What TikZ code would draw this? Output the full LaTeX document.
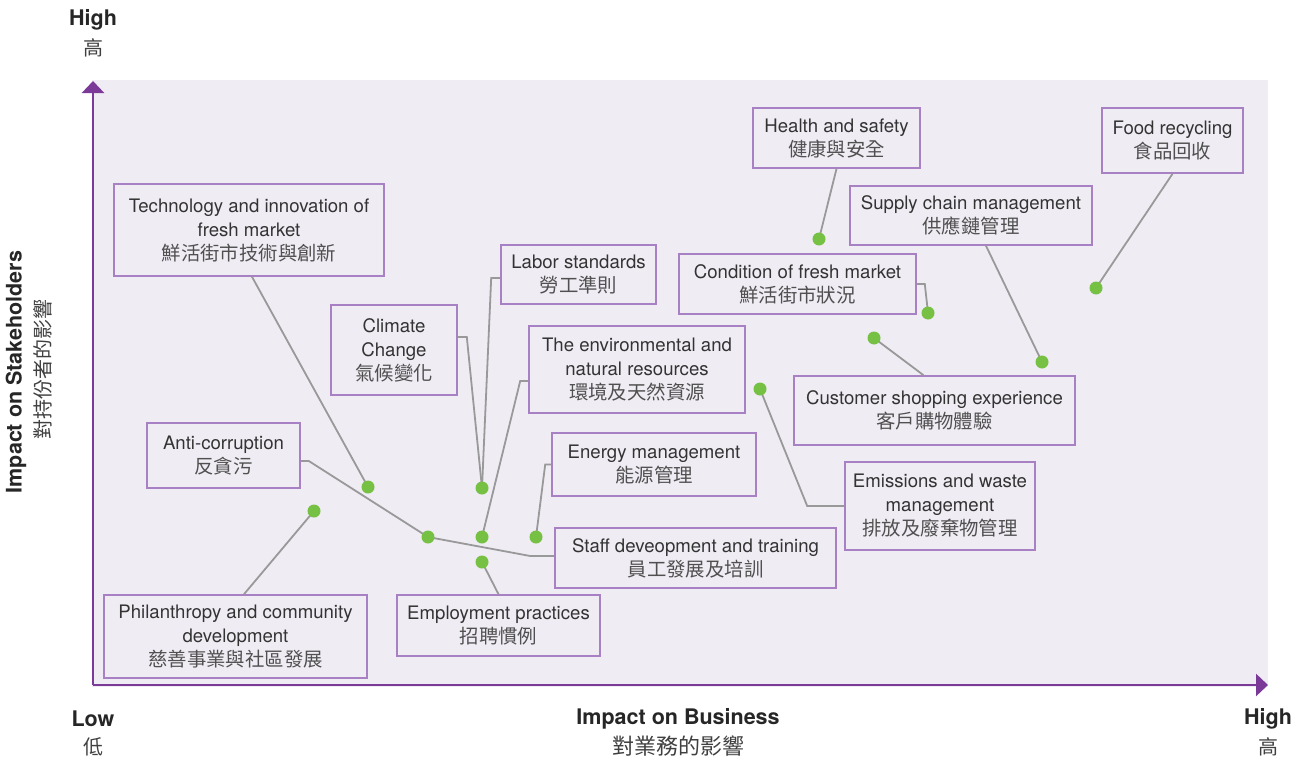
\documentclass[tikz,border=0pt]{standalone}
\usepackage{fontspec}
\setmainfont{TeX Gyre Heros}
\newfontfamily\tcfontbase{Noto Sans CJK TC}
\definecolor{cjktxt}{HTML}{505050}
\newcommand\tcfont{\fontsize{19.4}{24}\selectfont\tcfontbase\color{cjktxt}}
\usetikzlibrary{arrows.meta}
\definecolor{bgpurple}{HTML}{F0ECF4}
\definecolor{boxline}{HTML}{A880C4}
\definecolor{axispurple}{HTML}{7B3A98}
\definecolor{dotgreen}{HTML}{76C043}
\definecolor{linkgray}{HTML}{999999}
\definecolor{txt}{HTML}{333333}

\begin{document}
\begin{tikzpicture}[x=1pt,y=-1pt,
  box/.style={draw=boxline, line width=1.6pt, fill=bgpurple, align=center, inner sep=0pt,
    text=txt, font=\fontsize{18.6}{24}\selectfont},
  link/.style={linkgray, line width=1.8pt},
  axislabel/.style={text=black!85, font=\fontsize{21.5}{26}\selectfont\bfseries},
  axiscjk/.style={text=black!75, font=\fontsize{20}{24}\selectfont\tcfontbase}]
\useasboundingbox (0,0) rectangle (1305,760);
\fill[bgpurple] (92,80) rectangle (1268,687);

% axes
\coordinate (origin) at (93,685);
\coordinate (ytip) at (93,81);
\coordinate (xtip) at (1268,685);
\draw[axispurple, line width=2.6pt, -{Triangle[width=22pt,length=12pt]}] (origin) -- (ytip);
\draw[axispurple, line width=2.6pt, -{Triangle[width=22pt,length=12pt]}] (origin) -- (xtip);

\node[axislabel] (yhigh) at (93,20) {High};
\node[axiscjk] (yhighc) at (93,48) {高};
\node[axislabel] (xlow) at (93,719) {Low};
\node[axiscjk] (xlowc) at (93,747) {低};
\node[axislabel] (xhigh) at (1268,719) {High};
\node[axiscjk] (xhighc) at (1268,747) {高};
\node[axislabel] (xtitle) at (678,719) {Impact on Business};
\node[axiscjk, font=\fontsize{22}{26}\selectfont\tcfontbase] (xtitlec) at (678,746) {對業務的影響};
\node[axislabel, rotate=90] (ytitle) at (16,372) {Impact on Stakeholders};
\node[axiscjk, rotate=90] (ytitlec) at (43,369) {對持份者的影響};

% topic boxes
\node[box, minimum width=167, minimum height=60] (health) at (836.5,138) {Health and safety\\{\tcfont 健康與安全}};
\node[box, minimum width=141, minimum height=65] (food) at (1172.5,140.5) {Food recycling\\{\tcfont 食品回收}};
\node[box, minimum width=270, minimum height=92] (tech) at (249,230) {Technology and innovation of\\fresh market\\{\tcfont 鮮活街市技術與創新}};
\node[box, minimum width=242, minimum height=59] (supply) at (971,215.5) {Supply chain management\\{\tcfont 供應鏈管理}};
\node[box, minimum width=155, minimum height=59] (labor) at (578.5,274.5) {Labor standards\\{\tcfont 勞工準則}};
\node[box, minimum width=237, minimum height=60] (condition) at (797.5,284) {Condition of fresh market\\{\tcfont 鮮活街市狀況}};
\node[box, minimum width=126, minimum height=90] (climate) at (394,350) {Climate\\Change\\{\tcfont 氣候變化}};
\node[box, minimum width=216, minimum height=87] (environ) at (637,369.5) {The environmental and\\natural resources\\{\tcfont 環境及天然資源}};
\node[box, minimum width=281, minimum height=69] (customer) at (934.5,410.5) {Customer shopping experience\\{\tcfont 客戶購物體驗}};
\node[box, minimum width=153, minimum height=65] (anticorr) at (223.5,455.5) {Anti-corruption\\{\tcfont 反貪污}};
\node[box, minimum width=204, minimum height=63] (energy) at (654,464.5) {Energy management\\{\tcfont 能源管理}};
\node[box, minimum width=190, minimum height=88] (emission) at (940,506) {Emissions and waste\\management\\{\tcfont 排放及廢棄物管理}};
\node[box, minimum width=281, minimum height=60] (staff) at (695.5,558) {Staff deveopment and training\\{\tcfont 員工發展及培訓}};
\node[box, minimum width=263, minimum height=83] (philan) at (235.5,636.5) {Philanthropy and community\\development\\{\tcfont 慈善事業與社區發展}};
\node[box, minimum width=203, minimum height=61] (employ) at (498.5,625.5) {Employment practices\\{\tcfont 招聘慣例}};

% rating points
\coordinate (p-health) at (819,239);
\coordinate (p-food) at (1096,288);
\coordinate (p-tech) at (368,487);
\coordinate (p-supply) at (1042,362);
\coordinate (p-labor) at (482,488);
\coordinate (p-condition) at (928,313);
\coordinate (p-environ) at (482,537);
\coordinate (p-customer) at (874,338);
\coordinate (p-anticorr) at (428,537);
\coordinate (p-energy) at (536,537);
\coordinate (p-emission) at (760,389);
\coordinate (p-philan) at (314,511);
\coordinate (p-employ) at (482,562);

% leader lines
\draw[link] (health.south) -- (p-health);
\draw[link] (food.south) -- (p-food);
\draw[link] ([xshift=3pt]tech.south) -- (p-tech);
\draw[link] ([xshift=15pt]supply.south) -- (p-supply);
\draw[link] ([yshift=-3.5pt]labor.west) -- ++(-9,0) -- (p-labor);
\draw[link] (condition.east) -- ++(8,0) -- (p-condition);
\draw[link] ([yshift=13pt]climate.east) -- ++(9,0) -- (p-labor);
\draw[link] ([yshift=-11.5pt]environ.west) -- ++(-8,0) -- (p-environ);
\draw[link] ([xshift=-11pt]customer.north) -- (p-customer);
\draw[link] ([yshift=-5.5pt]anticorr.east) -- ++(8,0) -- (p-anticorr);
\draw[link] (energy.west) -- ++(-6,0) -- (p-energy);
\draw[link] (emission.west) -- ++(-37,0) -- (p-emission);
\draw[link] ([yshift=2pt]staff.west) -- ++(-24,0) -- (p-anticorr);
\draw[link] ([xshift=8.5pt]philan.north) -- (p-philan);
\draw[link] (employ.north) -- (p-employ);

\foreach \p in {health,food,tech,supply,labor,condition,environ,customer,anticorr,energy,emission,philan,employ}
  \fill[dotgreen] (p-\p) circle (6.5pt);
\end{tikzpicture}
\end{document}
